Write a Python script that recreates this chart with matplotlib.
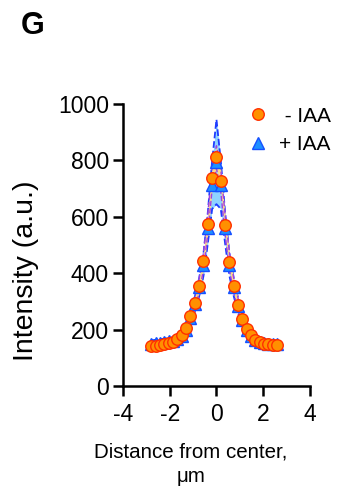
import matplotlib
matplotlib.use("Agg")
import matplotlib.pyplot as plt
import numpy as np

plt.rcParams['font.family'] = ['Liberation Sans', 'DejaVu Sans']
plt.rcParams['axes.unicode_minus'] = False

# distance from center (um), spacing ~0.185
k = np.arange(-15, 15)
distance = k * 0.185

minus_iaa = [143, 143, 145, 148, 151, 156, 167, 181, 207, 247, 295, 356, 442, 574, 739,
             812, 728, 571, 441, 355, 288, 236, 203, 180, 164, 155, 150, 148, 145, 144]
minus_sd = [8, 8, 8, 8, 8, 9, 10, 12, 14, 18, 22, 26, 30, 35, 40,
            40, 40, 35, 30, 26, 22, 18, 14, 12, 10, 9, 8, 8, 8, 8]

plus_iaa = [150, 152, 154, 156, 158, 160, 165, 178, 200, 240, 290, 350, 430, 560, 713,
            795, 713, 560, 430, 350, 285, 235, 200, 178, 162, 155, 152, 150, 150, 150]
plus_sd = [12, 12, 12, 12, 12, 12, 14, 16, 18, 22, 26, 32, 40, 55, 85,
           150, 85, 55, 40, 32, 26, 22, 18, 16, 14, 12, 12, 12, 12, 12]


def draw_plot():
    fig = plt.figure(figsize=(3.44, 4.91), dpi=100)
    ax = fig.add_axes([0.357, 0.2138, 0.5445, 0.5743])

    m = np.array(minus_iaa)
    p = np.array(plus_iaa)
    ms = np.array(minus_sd)
    ps = np.array(plus_sd)

    # + IAA band
    ax.fill_between(distance, p - ps, p + ps, color='#8FD3FF', lw=0, zorder=1)
    ax.plot(distance, p + ps, color='#1E3CFF', ls='--', lw=1.3, zorder=2)
    ax.plot(distance, p - ps, color='#1E3CFF', ls='--', lw=1.3, zorder=2)

    # - IAA band
    ax.fill_between(distance, m - ms, m + ms, color='#FFD88A', lw=0, zorder=3)
    ax.plot(distance, m + ms, color='#A040E0', ls='--', lw=1.0, zorder=4)
    ax.plot(distance, m - ms, color='#A040E0', ls='--', lw=1.0, zorder=4)

    ax.plot(distance, p, ls='none', marker='^', ms=9, mfc='#1E90FF',
            mec='#1550FF', mew=1, zorder=5, label='+ IAA')
    ax.plot(distance, m, ls='none', marker='o', ms=8.3, mfc='#FF9000',
            mec='#FF3000', mew=1, zorder=6, label=' - IAA')

    ax.set_xlim(-4, 4)
    ax.set_ylim(0, 1000)
    ax.set_xticks([-4, -2, 0, 2, 4])
    ax.set_yticks([0, 200, 400, 600, 800, 1000])

    for s in ['top', 'right']:
        ax.spines[s].set_visible(False)
    for s in ['left', 'bottom']:
        ax.spines[s].set_linewidth(1.8)
    ax.tick_params(width=1.8, length=7, labelsize=16.5, pad=3)
    ax.tick_params(axis='x', pad=5)

    ax.set_ylabel('Intensity (a.u.)', fontsize=20.5)
    ax.yaxis.set_label_coords(-0.45, 0.41)
    ax.set_xlabel('Distance from center,\nμm', fontsize=14.8, linespacing=1.35)
    ax.xaxis.set_label_coords(0.365, -0.2)

    h, l = ax.get_legend_handles_labels()
    ax.legend(h[::-1], l[::-1], loc='upper left',
              bbox_to_anchor=(0.72, 0.783), bbox_transform=fig.transFigure,
              frameon=False, fontsize=15, handlelength=1.0, handletextpad=0.5,
              labelspacing=0.45, borderaxespad=0, borderpad=0)

    fig.text(0.061, 0.930, 'G', fontsize=22, fontweight='bold', va='baseline')

    fig.savefig('out.png', dpi=100)


def main():
    draw_plot()


if __name__ == "__main__":
    main()
